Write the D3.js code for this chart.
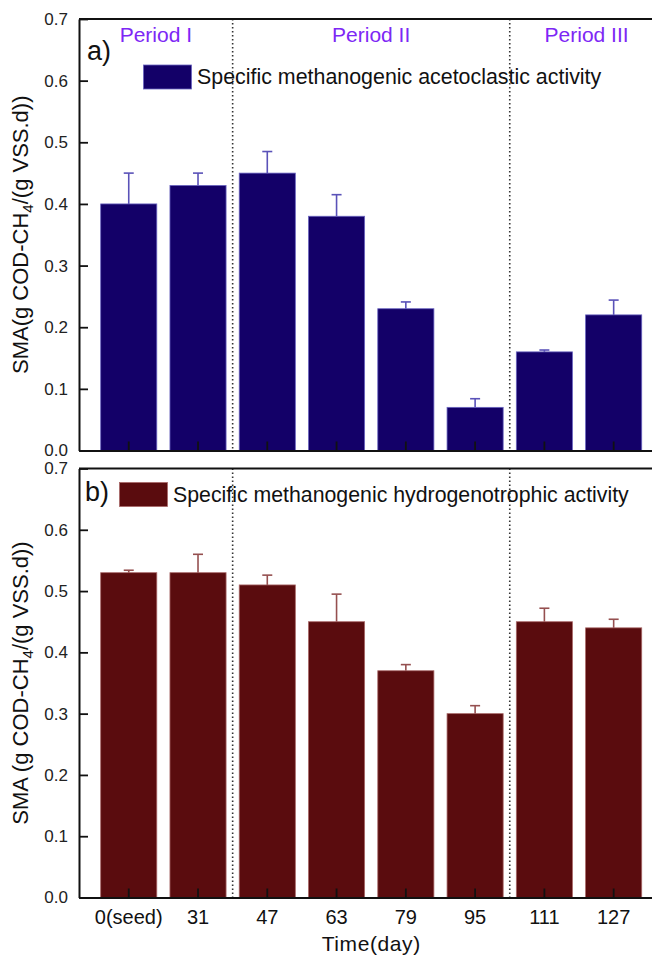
<!DOCTYPE html>
<html><head><meta charset="utf-8">
<script src="https://cdn.jsdelivr.net/npm/d3@7"></script>
<style>
html,body{margin:0;padding:0;background:#fff;}
svg{display:block;}
text{font-family:"Liberation Sans",Arial,sans-serif;}
</style></head>
<body>
<script>
// ---- data ----
const categories = ["0(seed)","31","47","63","79","95","111","127"];
const acetoclastic = [0.40,0.43,0.45,0.38,0.23,0.07,0.16,0.22];
const acetoclasticErr = [0.05,0.02,0.035,0.035,0.011,0.014,0.003,0.024];
const hydrogenotrophic = [0.53,0.53,0.51,0.45,0.37,0.30,0.45,0.44];
const hydrogenotrophicErr = [0.004,0.03,0.016,0.045,0.01,0.013,0.022,0.014];
const yTicks = [0,0.1,0.2,0.3,0.4,0.5,0.6,0.7];
const periodLabels = ["Period I","Period II","Period III"];
const periodStart = [0,2,6]; // index of first category in each period
const legendA = "Specific methanogenic acetoclastic activity";
const legendB = "Specific methanogenic hydrogenotrophic activity";
const xTitle = "Time(day)";

const W = 652, H = 955;
const svg = d3.select("body").append("svg").attr("width",W).attr("height",H);

const x = d3.scaleBand().domain(categories).range([79,663.4]).paddingInner(0.19).paddingOuter(0.313);
const yA = d3.scaleLinear().domain([0,0.7]).range([450.5,19]);
const yB = d3.scaleLinear().domain([0,0.7]).range([897.5,468.5]);

function panel(y, vals, errs, fill, stroke, errColor, showXLabels){
  const g = svg.append("g");
  // dividers
  const divX = periodStart.slice(1).map(i => (x(categories[i-1]) + x.bandwidth() + x(categories[i]))/2);
  g.selectAll("line.div").data(divX).join("line")
    .attr("x1",d=>d).attr("x2",d=>d).attr("y1",y(0.7)).attr("y2",y(0))
    .attr("stroke","#333").attr("stroke-width",1.6).attr("stroke-dasharray","1.4,2.6");
  // bars
  g.selectAll("rect.bar").data(vals).join("rect")
    .attr("x",(d,i)=>x(categories[i])).attr("width",x.bandwidth())
    .attr("y",d=>y(d)).attr("height",d=>y(0)-y(d))
    .attr("fill",fill).attr("stroke",stroke).attr("stroke-width",0.8);
  // error bars (upper only)
  const eg = g.selectAll("g.err").data(vals).join("g");
  eg.append("line")
    .attr("x1",(d,i)=>x(categories[i])+x.bandwidth()/2).attr("x2",(d,i)=>x(categories[i])+x.bandwidth()/2)
    .attr("y1",d=>y(d)).attr("y2",(d,i)=>y(d+errs[i]))
    .attr("stroke",errColor).attr("stroke-width",1.6);
  eg.append("line")
    .attr("x1",(d,i)=>x(categories[i])+x.bandwidth()/2-5).attr("x2",(d,i)=>x(categories[i])+x.bandwidth()/2+5)
    .attr("y1",(d,i)=>y(d+errs[i])).attr("y2",(d,i)=>y(d+errs[i]))
    .attr("stroke",errColor).attr("stroke-width",1.6);
  // top border
  g.append("line").attr("x1",79).attr("x2",W).attr("y1",y(0.7)).attr("y2",y(0.7))
    .attr("stroke","#111").attr("stroke-width",2);
  // y axis
  const ya = g.append("g").attr("transform","translate(79,0)")
    .call(d3.axisLeft(y).tickValues(yTicks).tickFormat(d3.format(".1f")).tickSizeInner(-9).tickSizeOuter(0).tickPadding(11));
  ya.select(".domain").attr("stroke","#111").attr("stroke-width",2);
  ya.selectAll(".tick line").attr("stroke","#111").attr("stroke-width",1.8);
  ya.selectAll(".tick text").attr("font-family","'Liberation Sans',Arial,sans-serif").attr("font-size",17).attr("fill","#222");
  // x axis
  const xa = g.append("g").attr("transform",`translate(0,${y(0)})`)
    .call(d3.axisBottom(x).tickSizeInner(-9).tickSizeOuter(0).tickPadding(12));
  xa.select(".domain").attr("stroke","#111").attr("stroke-width",2);
  xa.selectAll(".tick line").attr("stroke","#111").attr("stroke-width",1.8);
  if(showXLabels){
    xa.selectAll(".tick text").attr("font-family","Lato,sans-serif").attr("font-size",20).attr("fill","#111");
  } else {
    xa.selectAll(".tick text").remove();
  }
  return {g, divX};
}

const pA = panel(yA, acetoclastic, acetoclasticErr, "#130068", "#6a64c0", "#5a52b8", false);
const pB = panel(yB, hydrogenotrophic, hydrogenotrophicErr, "#5a0c0e", "#a86868", "#955050", true);

// period labels
const bounds = [79, ...pA.divX, x.range()[1]];
svg.selectAll("text.period").data(periodLabels).join("text")
  .attr("x",(d,i)=>(bounds[i]+bounds[i+1])/2).attr("y",42)
  .attr("text-anchor","middle").attr("font-size",21).attr("fill","#7d27f5").text(d=>d);

// panel letters
svg.append("text").attr("x",87).attr("y",60).attr("font-size",27).attr("fill","#111").text("a)");
svg.append("text").attr("x",85).attr("y",501).attr("font-size",27).attr("fill","#111").text("b)");

// legends
svg.append("rect").attr("x",143.5).attr("y",65).attr("width",48).attr("height",24)
  .attr("fill","#130068").attr("stroke","#6a64c0").attr("stroke-width",0.8);
svg.append("text").attr("x",197).attr("y",83.5).attr("font-size",21.4).attr("fill","#111").text(legendA);
svg.append("rect").attr("x",119.5).attr("y",482.5).attr("width",48).attr("height",24)
  .attr("fill","#5a0c0e").attr("stroke","#a86868").attr("stroke-width",0.8);
svg.append("text").attr("x",173).attr("y",501.5).attr("font-size",21.3).attr("fill","#111").text(legendB);

// y titles
function yTitle(cx, cy, pre){
  const t = svg.append("text").attr("transform",`translate(${cx},${cy}) rotate(-90)`)
    .attr("text-anchor","middle").attr("font-size",22).attr("fill","#111");
  t.append("tspan").text(pre + " COD-CH");
  t.append("tspan").attr("font-size",15).attr("dy",5).text("4");
  t.append("tspan").attr("dy",-5).text("/(g VSS.d))");
}
yTitle(28, (yA(0)+yA(0.7))/2, "SMA(g");
yTitle(28, (yB(0)+yB(0.7))/2, "SMA (g");

// x title
svg.append("text").attr("x",(x(categories[0])+x(categories[7])+x.bandwidth())/2).attr("y",951)
  .attr("text-anchor","middle").attr("font-family","Lato,sans-serif").attr("font-size",21)
  .attr("letter-spacing",0.6).attr("fill","#111").text(xTitle);
</script>
</body></html>
